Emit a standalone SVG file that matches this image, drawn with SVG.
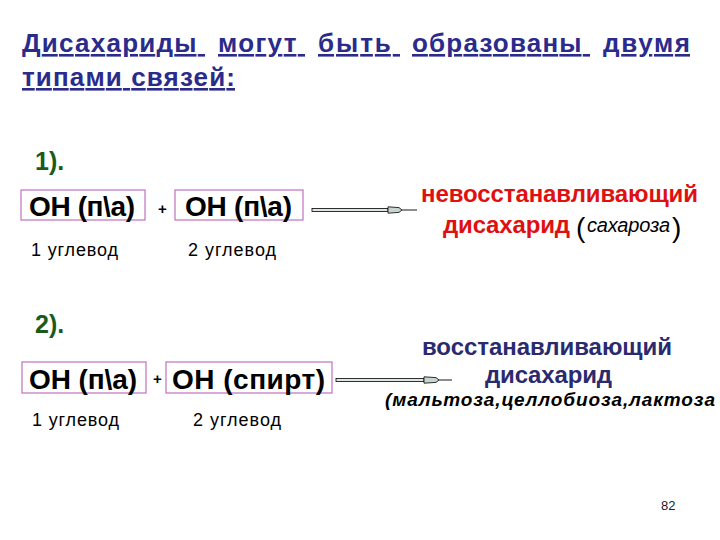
<svg xmlns="http://www.w3.org/2000/svg" width="720" height="540" viewBox="0 0 720 540">
<style>
.ttl{font-family:"Liberation Sans",Arial,sans-serif;font-weight:bold;font-size:26px;fill:#2b2b8c;text-decoration:underline}
.num{font-family:"Liberation Sans",Arial,sans-serif;font-weight:bold;font-size:25px;fill:#1a5a1a}
.box{fill:#fff;stroke:#c070c0;stroke-width:1.2}
.oh{font-family:"Liberation Sans",Arial,sans-serif;font-weight:bold;font-size:28px;fill:#000}
.lbl{font-family:"Liberation Sans",Arial,sans-serif;font-size:18px;fill:#000}
.plus{font-family:"Liberation Sans",Arial,sans-serif;font-weight:bold;font-size:15px;fill:#000}
.red{font-family:"Liberation Sans",Arial,sans-serif;font-weight:bold;font-size:24px;fill:#e01010}
.blu{font-family:"Liberation Sans",Arial,sans-serif;font-weight:bold;font-size:24px;fill:#2a2a6e}
.it{font-family:"Liberation Sans",Arial,sans-serif;font-style:italic;font-size:20px;fill:#000}
.itb{font-family:"Liberation Sans",Arial,sans-serif;font-style:italic;font-weight:bold;font-size:19px;fill:#000}
.par{font-family:"Liberation Sans",Arial,sans-serif;font-size:28px;fill:#000}
.shaft{fill:#dde6e2;stroke:#000;stroke-width:0.8}
.head{fill:#c8d4d0;stroke:#000;stroke-width:0.8}
.tip{stroke:#000;stroke-width:0.9;fill:none}
.pg{font-family:"Liberation Sans",Arial,sans-serif;font-size:13px;fill:#222}
</style>
<rect width="720" height="540" fill="#fff"/>
<g id="title">
<text class="ttl" x="22" y="52" textLength="183">Дисахариды&#160;</text>
<text class="ttl" x="218" y="52" textLength="87">могут&#160;</text>
<text class="ttl" x="318" y="52" textLength="82">быть&#160;</text>
<text class="ttl" x="412" y="52" textLength="178">образованы&#160;</text>
<text class="ttl" x="603" y="52" textLength="87">двумя</text>
<text class="ttl" x="22" y="86" textLength="213">типами связей:</text>
</g>
<g id="step1">
<text class="num" x="35" y="170">1).</text>
</g>
<g id="r1-box1">
<rect class="box" x="21" y="190" width="124" height="30"/>
<text class="oh" x="29" y="216" textLength="106">ОН (п\а)</text>
<text class="lbl" x="31" y="256" textLength="87">1 углевод</text>
</g>
<g id="r1-plus"><text class="plus" x="158" y="214">+</text></g>
<g id="r1-box2">
<rect class="box" x="175" y="190" width="128" height="30"/>
<text class="oh" x="185" y="216" textLength="107">ОН (п\а)</text>
<text class="lbl" x="188" y="256" textLength="88">2 углевод</text>
</g>
<g id="r1-result">
<text class="red" x="421" y="202" textLength="277">невосстанавливающий</text>
<text class="red" x="443" y="233" textLength="127">дисахарид</text>
<text class="par" x="576" y="237">(</text>
<text class="it" x="587" y="232" textLength="83">сахароза</text>
<text class="par" x="672" y="237">)</text>
</g>
<g id="step2">
<text class="num" x="35" y="333">2).</text>
</g>
<g id="r2-box1">
<rect class="box" x="22" y="362" width="124" height="31"/>
<text class="oh" x="29" y="389" textLength="108">ОН (п\а)</text>
<text class="lbl" x="32" y="426" textLength="87">1 углевод</text>
</g>
<g id="r2-plus"><text class="plus" x="153" y="384">+</text></g>
<g id="r2-box2">
<rect class="box" x="166" y="362" width="166" height="31"/>
<text class="oh" x="172" y="389" textLength="153">ОН (спирт)</text>
<text class="lbl" x="193" y="426" textLength="88">2 углевод</text>
</g>
<g id="r2-result">
<text class="blu" x="422" y="355" textLength="250">восстанавливающий</text>
<text class="blu" x="485" y="383" textLength="127">дисахарид</text>
<text class="itb" x="385" y="406" textLength="330">(мальтоза,целлобиоза,лактоза</text>
</g>
<g id="connectors">
<rect class="shaft" x="312" y="208.5" width="76" height="3"/>
<polygon class="head" points="388,206.8 399,207.6 402,210 399,212.4 388,213.2"/>
<line class="tip" x1="402" y1="210" x2="417" y2="210"/>
<rect class="shaft" x="336" y="378.5" width="88" height="3"/>
<polygon class="head" points="424,376.8 436,377.6 439,380 436,382.4 424,383.2"/>
<line class="tip" x1="439" y1="380" x2="452" y2="380"/>
</g>
<g id="page"><text class="pg" x="661" y="510">82</text></g>
</svg>
